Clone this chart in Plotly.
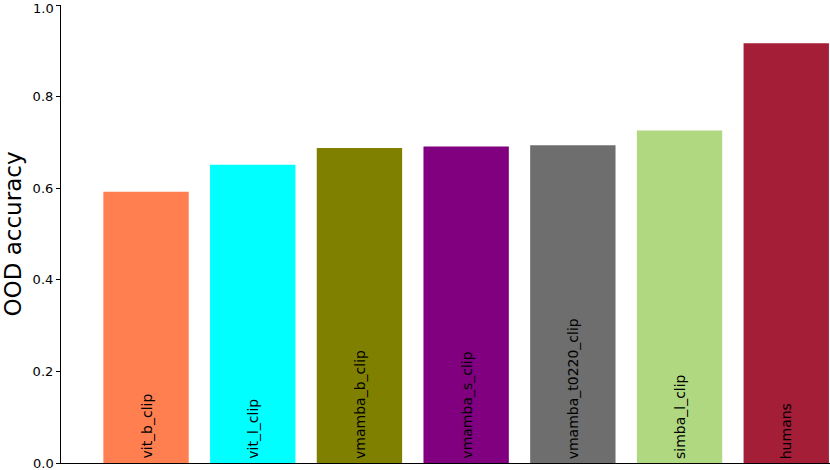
import plotly.graph_objects as go

models = ["vit_b_clip", "vit_l_clip", "vmamba_b_clip", "vmamba_s_clip",
          "vmamba_t0220_clip", "simba_l_clip", "humans"]
ood_accuracy = [0.592, 0.651, 0.688, 0.691, 0.694, 0.726, 0.9165]
colors = ["#FF7F50", "#00FFFF", "#808000", "#800080", "#6E6E6E", "#B0D880", "#A51E37"]
y_ticks = [0.0, 0.2, 0.4, 0.6, 0.8, 1.0]

xpos = list(range(len(models)))
fig = go.Figure(go.Bar(x=xpos, y=ood_accuracy, marker=dict(color=colors, line=dict(width=0)),
                       width=0.8, hoverinfo="skip"))

for i, m in enumerate(models):
    fig.add_annotation(x=i, y=0, text=m, textangle=-90, showarrow=False,
                       xanchor="center", yanchor="bottom", yshift=2,
                       font=dict(family="DejaVu Sans", size=14, color="black"))

# end tick labels (plotly drops labels that overflow the figure edge)
tick_text = []
for v in y_ticks:
    if v == y_ticks[0]:
        tick_text.append("")
        fig.add_annotation(x=0, xref="paper", y=v, yref="y", text=f"{v:.1f}",
                           showarrow=False, xanchor="right", yanchor="middle", xshift=-6,
                           borderpad=0,
                           font=dict(family="DejaVu Sans", size=13, color="black"))
    elif v == y_ticks[-1]:
        tick_text.append("")
        fig.add_annotation(x=0, xref="paper", y=v, yref="y", text=f"{v:.1f}",
                           showarrow=False, xanchor="right", yanchor="top", xshift=-6,
                           yshift=5, borderpad=0,
                           font=dict(family="DejaVu Sans", size=13, color="black"))
    else:
        tick_text.append(f"{v:.1f}")

fig.update_layout(
    width=830, height=470,
    margin=dict(l=61, r=0, t=5, b=7),
    plot_bgcolor="white", paper_bgcolor="white",
    showlegend=False,
    font=dict(family="DejaVu Sans", color="black"),
    xaxis=dict(range=[-0.797, 6.41], showticklabels=False, ticks="",
               showgrid=False, zeroline=False, showline=True, linecolor="black", linewidth=1.2),
    yaxis=dict(range=[0, 1], tickvals=y_ticks, ticktext=tick_text,
               ticks="outside", ticklen=4, tickwidth=1, tickcolor="black",
               showgrid=False, zeroline=False, showline=True, linecolor="black", linewidth=1.2,
               tickfont=dict(size=13, family="DejaVu Sans"),
               title=dict(text="OOD accuracy", font=dict(size=23, family="DejaVu Sans"), standoff=10)),
)
fig.write_html("out.html", config={"displayModeBar": False},
               post_script="document.body.style.margin='0';document.body.style.padding='0';")
